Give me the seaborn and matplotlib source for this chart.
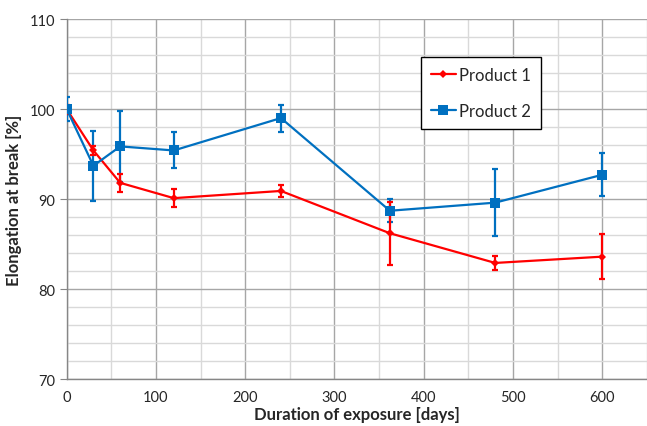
import pandas as pd
import matplotlib.pyplot as plt
import seaborn as sns
from matplotlib.ticker import MultipleLocator

# Data
days = [0, 30, 60, 120, 240, 362, 480, 600]
product1 = [100.0, 95.4, 91.8, 90.1, 90.9, 86.2, 82.9, 83.6]
product1_err = [0.5, 0.5, 1.0, 1.0, 0.7, 3.5, 0.8, 2.5]
product2 = [100.0, 93.7, 95.85, 95.4, 99.0, 88.7, 89.6, 92.7]
product2_err = [1.3, 3.9, 3.9, 2.0, 1.5, 1.3, 3.75, 2.4]

red = '#FF0000'
blue = '#0070C0'

sns.set_style('white')
plt.rcParams['font.family'] = ['Lato', 'DejaVu Sans']

df = pd.DataFrame({
    'days': days * 2,
    'value': product1 + product2,
    'product': ['Product 1'] * len(days) + ['Product 2'] * len(days),
})

fig = plt.figure(figsize=(6.47, 4.27), dpi=100)
ax = fig.add_axes([0.103, 0.110, 0.897, 0.843])

# error bars first, series on top
ax.errorbar(days, product2, yerr=product2_err, fmt='none', ecolor=blue,
            elinewidth=1.6, capsize=2.5, capthick=1.6, zorder=3)
ax.errorbar(days, product1, yerr=product1_err, fmt='none', ecolor=red,
            elinewidth=1.6, capsize=2.5, capthick=1.6, zorder=4)

sns.lineplot(data=df, x='days', y='value', hue='product', style='product',
             markers={'Product 1': 'D', 'Product 2': 's'}, dashes=False,
             palette={'Product 1': red, 'Product 2': blue},
             hue_order=['Product 1', 'Product 2'],
             linewidth=1.6, markersize=6, markeredgewidth=0, ax=ax, zorder=5)
# make squares slightly larger than diamonds
for line in ax.lines:
    if line.get_marker() == 's':
        line.set_markersize(7)
    elif line.get_marker() == 'D':
        line.set_markersize(4.5)

ax.set_xlim(0, 650)
ax.set_ylim(70, 110)
ax.xaxis.set_major_locator(MultipleLocator(100))
ax.xaxis.set_minor_locator(MultipleLocator(50))
ax.yaxis.set_major_locator(MultipleLocator(10))
ax.yaxis.set_minor_locator(MultipleLocator(2))

ax.grid(which='major', color='#a6a6a6', linewidth=1.0, zorder=0)
ax.grid(which='minor', color='#d9d9d9', linewidth=1.0, zorder=0)
ax.set_axisbelow(True)

for side in ['top', 'right']:
    ax.spines[side].set_visible(False)
for side in ['left', 'bottom']:
    ax.spines[side].set_color('#868686')
    ax.spines[side].set_linewidth(1.0)

ax.tick_params(axis='y', which='major', direction='out', length=5, color='#868686',
               labelsize=10.5, pad=3, left=True)
ax.tick_params(axis='x', which='major', direction='out', length=0,
               labelsize=10.5, pad=8)
ax.tick_params(which='minor', length=0)

ax.set_xlabel('Duration of exposure [days]', fontsize=12, fontweight='bold', labelpad=1)
ax.set_ylabel('Elongation at break [%]', fontsize=12, fontweight='bold', labelpad=6)

handles, labels = ax.get_legend_handles_labels()
leg = ax.legend(handles, labels, loc='upper left', bbox_to_anchor=(0.61, 0.894),
                fontsize=12, frameon=True, fancybox=False, framealpha=1,
                edgecolor='black', labelspacing=1.2, handlelength=1.5,
                handletextpad=0.2, borderpad=0.6, borderaxespad=0)
leg.get_frame().set_linewidth(1.0)

plt.savefig('out.png', dpi=100)
